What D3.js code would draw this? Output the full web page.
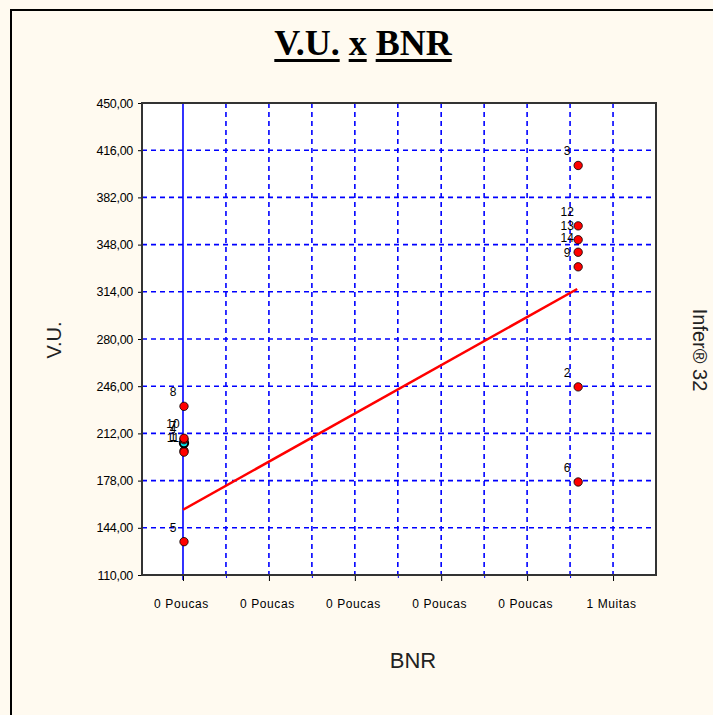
<!DOCTYPE html>
<html>
<head>
<meta charset="utf-8">
<script src="https://cdn.jsdelivr.net/npm/d3@7"></script>
<style>
  body { margin: 0; background: #fffaf0; }
  svg { display: block; }
</style>
</head>
<body>
<svg id="chart" width="713" height="715"></svg>
<script>
// Data.
const pointIds = ["1", "4", "5", "7", "8", "10", "11", "2", "3", "6", "9", "12", "13", "14"];
const bnrValues = [0, 0, 0, 0, 0, 0, 0, 1, 1, 1, 1, 1, 1, 1];
const vuValues = [199.5, 205, 134, 207.5, 231.5, 208.5, 198.5, 245.5, 405, 177, 332, 361.5, 351.5, 342.5];
const highlighted = ["4"];
const trendX = [0, 1];
const trendY = [157, 316];
const yTicks = [110, 144, 178, 212, 246, 280, 314, 348, 382, 416, 450];
const xTicks = [0, 0.109, 0.218, 0.327, 0.436, 0.545, 0.655, 0.764, 0.873, 0.982, 1.091];
const xTickLabels = ["0 Poucas", "", "0 Poucas", "", "0 Poucas", "", "0 Poucas", "", "0 Poucas", "", "1 Muitas"];

const svg = d3.select("#chart");
const plot = { left: 142, top: 103, right: 656, bottom: 575 };

svg.append("rect")
  .attr("width", 713).attr("height", 715)
  .attr("fill", "#fffaf0");

// outer frame
svg.append("rect")
  .attr("x", 11).attr("y", 10)
  .attr("width", 760).attr("height", 760)
  .attr("fill", "none")
  .attr("stroke", "#000")
  .attr("stroke-width", 2);

const x = d3.scaleLinear()
  .domain([-0.104, 1.2])
  .range([plot.left, plot.right]);
const y = d3.scaleLinear()
  .domain([110, 450])
  .range([plot.bottom, plot.top]);

svg.append("rect")
  .attr("x", plot.left).attr("y", plot.top)
  .attr("width", plot.right - plot.left)
  .attr("height", plot.bottom - plot.top)
  .attr("fill", "#fff");

// Grid.
svg.append("g")
  .selectAll("line")
  .data(yTicks.filter((d) => d > 110 && d < 450))
  .join("line")
    .attr("x1", plot.left).attr("x2", plot.right)
    .attr("y1", (d) => y(d)).attr("y2", (d) => y(d))
    .attr("stroke", "#0000ff")
    .attr("stroke-width", 1.6)
    .attr("stroke-dasharray", "5,4");

svg.append("g")
  .selectAll("line")
  .data(xTicks.slice(1))
  .join("line")
    .attr("x1", (d) => x(d)).attr("x2", (d) => x(d))
    .attr("y1", plot.top).attr("y2", plot.bottom)
    .attr("stroke", "#0000ff")
    .attr("stroke-width", 1.6)
    .attr("stroke-dasharray", "5,4");

// zero line
svg.append("line")
  .attr("x1", x(0)).attr("x2", x(0))
  .attr("y1", plot.top).attr("y2", plot.bottom + 5)
  .attr("stroke", "#0000ff")
  .attr("stroke-width", 1.6);

// Axes.
const yAxis = d3.axisLeft(y)
  .tickValues(yTicks)
  .tickSize(4)
  .tickFormat((d) => d3.format(".2f")(d).replace(".", ","));

const yG = svg.append("g")
  .attr("transform", "translate(" + plot.left + ",0)")
  .call(yAxis);
yG.select(".domain").remove();
yG.selectAll("text")
  .attr("font-family", "Liberation Sans, Arial, sans-serif")
  .attr("font-size", 12.5)
  .attr("letter-spacing", "-0.3")
  .attr("fill", "#000")
  .attr("x", -9);

const xAxis = d3.axisBottom(x)
  .tickValues(xTicks)
  .tickSize(5)
  .tickFormat((d, i) => xTickLabels[i]);

const xG = svg.append("g")
  .attr("transform", "translate(0," + plot.bottom + ")")
  .call(xAxis);
xG.select(".domain").remove();
xG.selectAll(".tick line")
  .attr("stroke", (d, i) => i % 2 === 0 ? "#000" : "#0000ff")
  .attr("y2", (d, i) => i % 2 === 0 ? 6 : 3);
xG.selectAll("text")
  .attr("font-family", "Liberation Sans, Arial, sans-serif")
  .attr("font-size", 12)
  .attr("letter-spacing", "0.6")
  .attr("fill", "#000")
  .attr("dx", -2)
  .attr("y", 24);

// plot border
svg.append("rect")
  .attr("x", plot.left).attr("y", plot.top)
  .attr("width", plot.right - plot.left)
  .attr("height", plot.bottom - plot.top)
  .attr("fill", "none")
  .attr("stroke", "#333")
  .attr("stroke-width", 2);

// Trend line.
const line = d3.line()
  .x((d, i) => x(trendX[i]))
  .y((d) => y(d));

svg.append("path")
  .datum(trendY)
  .attr("d", line)
  .attr("fill", "none")
  .attr("stroke", "#ff0000")
  .attr("stroke-width", 2.5);

// Points.
const pts = pointIds.map((id, i) => ({ id: id, bnr: bnrValues[i], vu: vuValues[i] }));

svg.append("g")
  .selectAll("text")
  .data(pts)
  .join("text")
    .attr("x", (d) => x(d.bnr) - 10)
    .attr("y", (d) => y(d.vu) - 14)
    .attr("text-anchor", "middle")
    .attr("dominant-baseline", "central")
    .attr("font-family", "Liberation Sans, Arial, sans-serif")
    .attr("font-size", 12)
    .attr("fill", "#000")
    .text((d) => d.id);

svg.append("g")
  .selectAll("circle")
  .data(pts)
  .join("circle")
    .attr("cx", (d) => x(d.bnr) + 1)
    .attr("cy", (d) => y(d.vu))
    .attr("r", 4.2)
    .attr("fill", (d) => highlighted.includes(d.id) ? "#00e8f0" : "#ff0000")
    .attr("stroke", "#000")
    .attr("stroke-width", (d) => highlighted.includes(d.id) ? 2 : 0.8);

// Titles.
const titleWords = ["V.U.", "x", "BNR"];
const title = svg.append("g");
const wordEls = titleWords.map((w) => title.append("text")
    .attr("y", 55)
    .attr("font-family", "Liberation Serif, Times New Roman, serif")
    .attr("font-weight", "bold")
    .attr("font-size", 36)
    .attr("fill", "#000")
    .text(w));
const spaceW = 9;
const widths = wordEls.map((t) => t.node().getComputedTextLength());
const total = d3.sum(widths) + spaceW * (titleWords.length - 1);
let cursor = 363 - total / 2;
wordEls.forEach((t, i) => {
  t.attr("x", cursor);
  title.append("rect")
    .attr("x", cursor).attr("y", 59)
    .attr("width", widths[i]).attr("height", 3)
    .attr("fill", "#000");
  cursor += widths[i] + spaceW;
});

svg.append("text")
  .attr("transform", "translate(61,340) rotate(-90)")
  .attr("text-anchor", "middle")
  .attr("font-family", "Liberation Sans, Arial, sans-serif")
  .attr("font-size", 20)
  .attr("fill", "#222")
  .text("V.U.");

svg.append("text")
  .attr("x", 413).attr("y", 668)
  .attr("text-anchor", "middle")
  .attr("font-family", "Liberation Sans, Arial, sans-serif")
  .attr("font-size", 22)
  .attr("fill", "#222")
  .text("BNR");

svg.append("text")
  .attr("transform", "translate(693,350) rotate(90)")
  .attr("text-anchor", "middle")
  .attr("font-family", "Liberation Sans, Arial, sans-serif")
  .attr("font-size", 20)
  .attr("fill", "#222")
  .text("Infer® 32");
</script>
</body>
</html>
